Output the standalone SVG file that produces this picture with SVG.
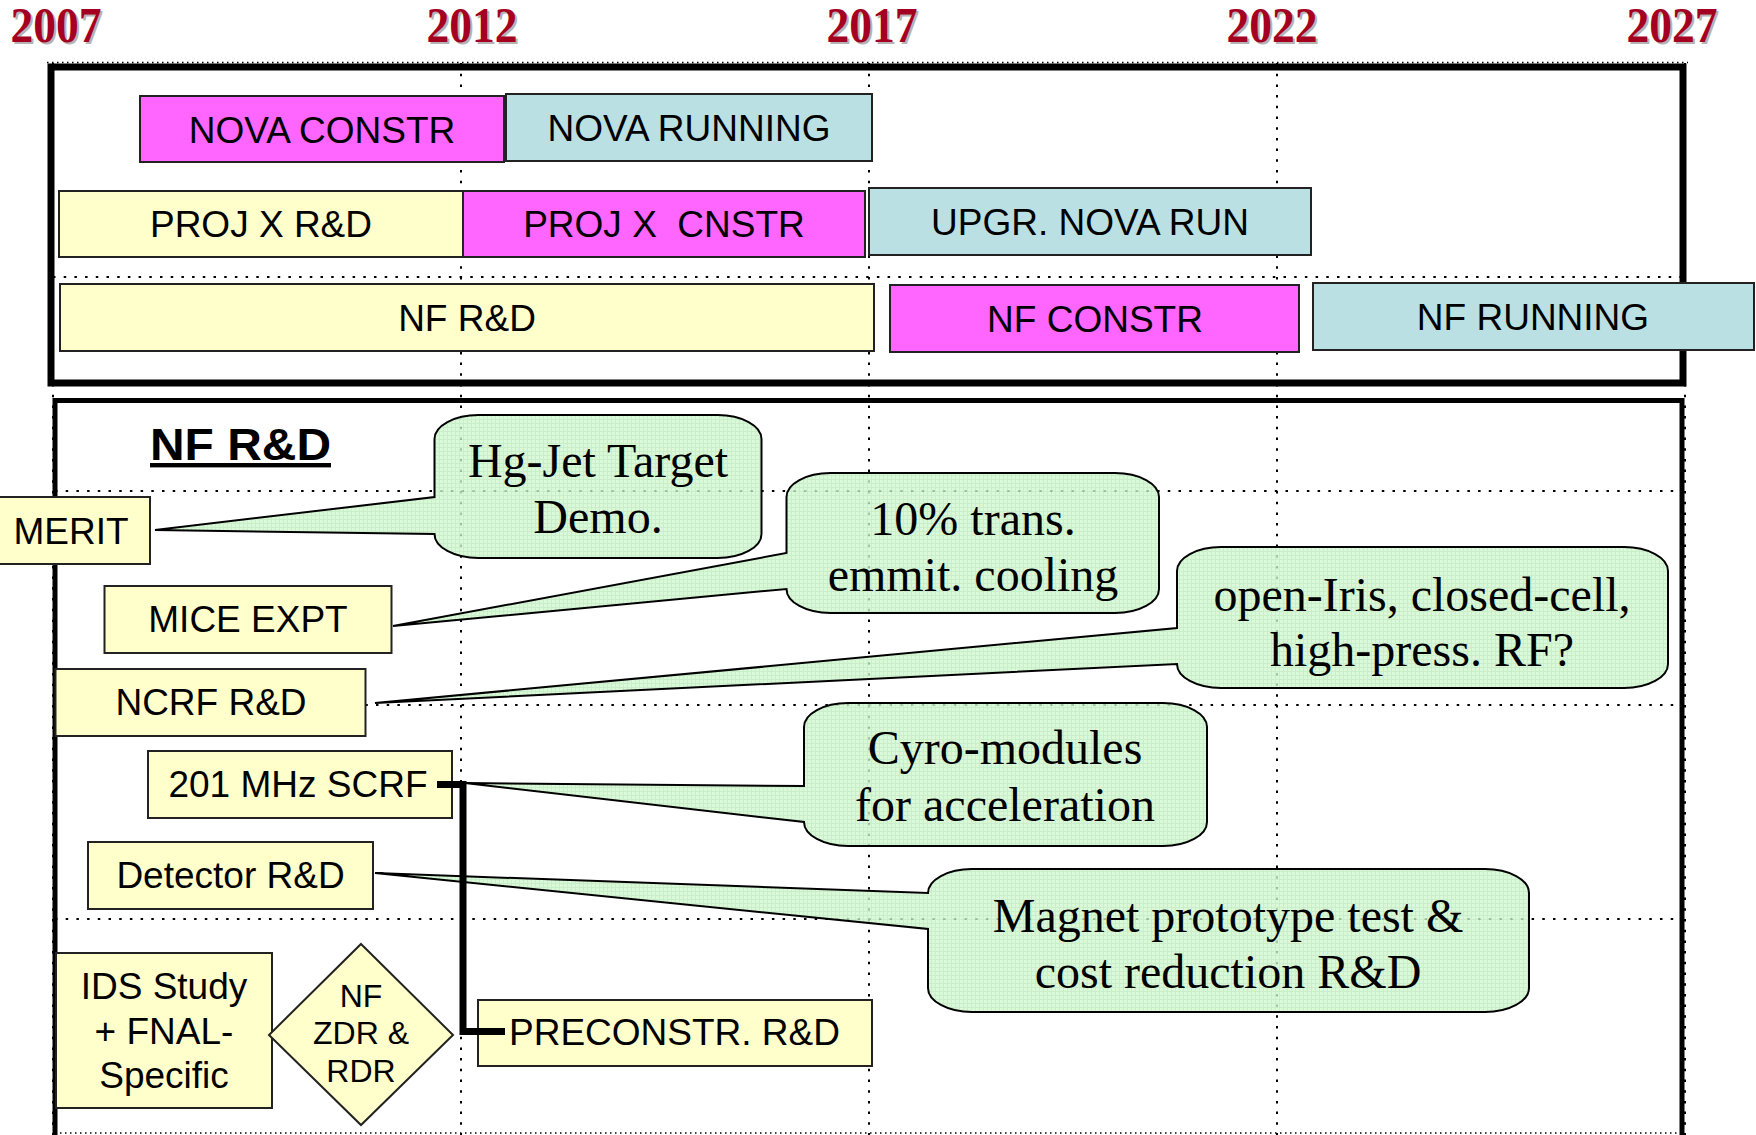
<svg xmlns="http://www.w3.org/2000/svg" width="1756" height="1135" viewBox="0 0 1756 1135">
<style>
.year{font-family:"Liberation Serif","Times New Roman",serif;font-weight:bold;font-size:50px;text-anchor:middle}
.yr{fill:#A50021}
.ysh{fill:#B4B4B4}
.grid{stroke:#000;stroke-width:2;stroke-dasharray:2.5 8.2;fill:none}
.gridf{stroke:#000;stroke-width:1.5;stroke-dasharray:1.5 3.5;fill:none}
.frame{fill:none;stroke:#000}
.bar{stroke:#222;stroke-width:2}
.mag{fill:#FF66FF}
.blu{fill:#BBE0E3}
.yel{fill:#FFFFCC}
.lbl{font-family:"Liberation Sans",Arial,sans-serif;font-size:37px;text-anchor:middle;fill:#000}
.sm{font-size:32px}
.bal{fill:url(#tex);fill-opacity:0.8;stroke:#000;stroke-width:2;stroke-linejoin:miter}
.bt{font-family:"Liberation Serif","Times New Roman",serif;font-size:48px;text-anchor:middle;fill:#000}
.conn{fill:none;stroke:#000;stroke-width:7;stroke-linejoin:miter}
</style>
<defs>
<pattern id="tex" width="4" height="4" patternUnits="userSpaceOnUse">
<rect width="4" height="4" fill="#CFF7CF"/>
<path d="M0,3.5H4M3.5,0V4" stroke="#BCEABC" stroke-width="1"/>
</pattern>
</defs>
<rect width="1756" height="1135" fill="#fff"/>

<g id="years">
<text class="year ysh" x="58" y="44" textLength="91" lengthAdjust="spacingAndGlyphs">2007</text>
<text class="year yr" x="56" y="42" textLength="91" lengthAdjust="spacingAndGlyphs">2007</text>
<text class="year ysh" x="474" y="44" textLength="91" lengthAdjust="spacingAndGlyphs">2012</text>
<text class="year yr" x="472" y="42" textLength="91" lengthAdjust="spacingAndGlyphs">2012</text>
<text class="year ysh" x="874" y="44" textLength="91" lengthAdjust="spacingAndGlyphs">2017</text>
<text class="year yr" x="872" y="42" textLength="91" lengthAdjust="spacingAndGlyphs">2017</text>
<text class="year ysh" x="1274" y="44" textLength="91" lengthAdjust="spacingAndGlyphs">2022</text>
<text class="year yr" x="1272" y="42" textLength="91" lengthAdjust="spacingAndGlyphs">2022</text>
<text class="year ysh" x="1674" y="44" textLength="91" lengthAdjust="spacingAndGlyphs">2027</text>
<text class="year yr" x="1672" y="42" textLength="91" lengthAdjust="spacingAndGlyphs">2027</text>
</g>

<g id="gridlines">
<path class="gridf" d="M47,62.5H1688"/>
<path class="gridf" d="M55,1133H1685"/>
<path class="grid" d="M53,277H1683M55,491H1682M55,705H1682M55,919H1682"/>
<path class="grid" d="M53,63V1135M461,63V1135M869,63V1135M1277,63V1135M1685,63V1135"/>
</g>

<g id="frames">
<rect class="frame" x="51" y="67" width="1632" height="316" stroke-width="7"/>
<rect class="frame" x="55" y="400.5" width="1627" height="800" stroke-width="5"/>
</g>

<g id="nova-constr"><rect class="bar mag" x="140" y="96" width="364" height="66"/><text class="lbl" x="322" y="143">NOVA CONSTR</text></g>
<g id="nova-running"><rect class="bar blu" x="506" y="94" width="366" height="67"/><text class="lbl" x="689" y="141">NOVA RUNNING</text></g>
<g id="projx-rd"><rect class="bar yel" x="59" y="191" width="404" height="66"/><text class="lbl" x="261" y="237">PROJ X R&amp;D</text></g>
<g id="projx-cnstr"><rect class="bar mag" x="463" y="191" width="402" height="66"/><text class="lbl" x="664" y="237" xml:space="preserve">PROJ X  CNSTR</text></g>
<g id="upgr-nova-run"><rect class="bar blu" x="869" y="188" width="442" height="67"/><text class="lbl" x="1090" y="235">UPGR. NOVA RUN</text></g>
<g id="nf-rd-bar"><rect class="bar yel" x="60" y="284" width="814" height="67"/><text class="lbl" x="467" y="331">NF R&amp;D</text></g>
<g id="nf-constr"><rect class="bar mag" x="890" y="285" width="409" height="67"/><text class="lbl" x="1095" y="332">NF CONSTR</text></g>
<g id="nf-running"><rect class="bar blu" x="1313" y="283" width="441" height="67"/><text class="lbl" x="1533" y="330">NF RUNNING</text></g>

<g id="nf-rd-title"><text x="150" y="460" font-family="'Liberation Sans',Arial,sans-serif" font-weight="bold" font-size="44" text-decoration="underline" textLength="181" lengthAdjust="spacingAndGlyphs">NF R&amp;D</text></g>

<g id="callout-hgjet">
<path class="bal" d="M478.5,415H717.5A44,24 0 0 1 761.5,439V534A44,24 0 0 1 717.5,558H478.5A44,24 0 0 1 434.5,534L155,530L434.5,497V439A44,24 0 0 1 478.5,415Z"/>
<text class="bt" x="598" y="477">Hg-Jet Target</text>
<text class="bt" x="598" y="533">Demo.</text>
</g>
<g id="callout-cooling">
<path class="bal" d="M830.5,473H1115A44,24 0 0 1 1159,497V589A44,24 0 0 1 1115,613H830.5A44,24 0 0 1 786.5,589L393,626L786.5,553V497A44,24 0 0 1 830.5,473Z"/>
<text class="bt" x="973" y="535">10% trans.</text>
<text class="bt" x="973" y="591">emmit. cooling</text>
</g>
<g id="callout-rf">
<path class="bal" d="M1221,547H1624A44,24 0 0 1 1668,571V664A44,24 0 0 1 1624,688H1221A44,24 0 0 1 1177,664L375,703L1177,628V571A44,24 0 0 1 1221,547Z"/>
<text class="bt" x="1422" y="611">open-Iris, closed-cell,</text>
<text class="bt" x="1422" y="666">high-press. RF?</text>
</g>
<g id="callout-cyro">
<path class="bal" d="M848,703H1163A44,24 0 0 1 1207,727V822A44,24 0 0 1 1163,846H848A44,24 0 0 1 804,822L465,783L804,786V727A44,24 0 0 1 848,703Z"/>
<text class="bt" x="1005" y="764">Cyro-modules</text>
<text class="bt" x="1005" y="821">for acceleration</text>
</g>
<g id="callout-magnet">
<path class="bal" d="M972,869H1485A44,24 0 0 1 1529,893V988A44,24 0 0 1 1485,1012H972A44,24 0 0 1 928,988V929L375,873L928,893A44,24 0 0 1 972,869Z"/>
<text class="bt" x="1228" y="932">Magnet prototype test &amp;</text>
<text class="bt" x="1228" y="988">cost reduction R&amp;D</text>
</g>

<g id="merit"><rect class="bar yel" x="-2" y="497" width="152" height="67"/><text class="lbl" x="71" y="544">MERIT</text></g>
<g id="mice-expt"><rect class="bar yel" x="104.5" y="586" width="287" height="67"/><text class="lbl" x="248" y="632">MICE EXPT</text></g>
<g id="ncrf-rd"><rect class="bar yel" x="55.5" y="669" width="310" height="67"/><text class="lbl" x="211" y="715">NCRF R&amp;D</text></g>
<g id="scrf-201"><rect class="bar yel" x="148" y="751" width="304" height="67"/><text class="lbl" x="298" y="797">201 MHz SCRF</text></g>
<g id="detector-rd"><rect class="bar yel" x="88" y="842" width="285" height="67"/><text class="lbl" x="230.5" y="888">Detector R&amp;D</text></g>
<g id="ids-study"><rect class="bar yel" x="56" y="953" width="216" height="155"/>
<text class="lbl" x="164" y="999">IDS Study</text>
<text class="lbl" x="164" y="1044">+ FNAL-</text>
<text class="lbl" x="164" y="1088">Specific</text></g>
<g id="nf-zdr-rdr"><path class="bar yel" d="M361,944L453,1035L361,1125L269,1035Z"/>
<text class="lbl sm" x="361" y="1007">NF</text>
<text class="lbl sm" x="361" y="1044">ZDR &amp;</text>
<text class="lbl sm" x="361" y="1082">RDR</text></g>
<g id="preconstr-rd"><rect class="bar yel" x="478" y="1000" width="394" height="66"/><text class="lbl" x="674.5" y="1045">PRECONSTR. R&amp;D</text></g>

<g id="connectors">
<path class="conn" d="M437,784.5H463V1031.5H505"/>
</g>
</svg>
